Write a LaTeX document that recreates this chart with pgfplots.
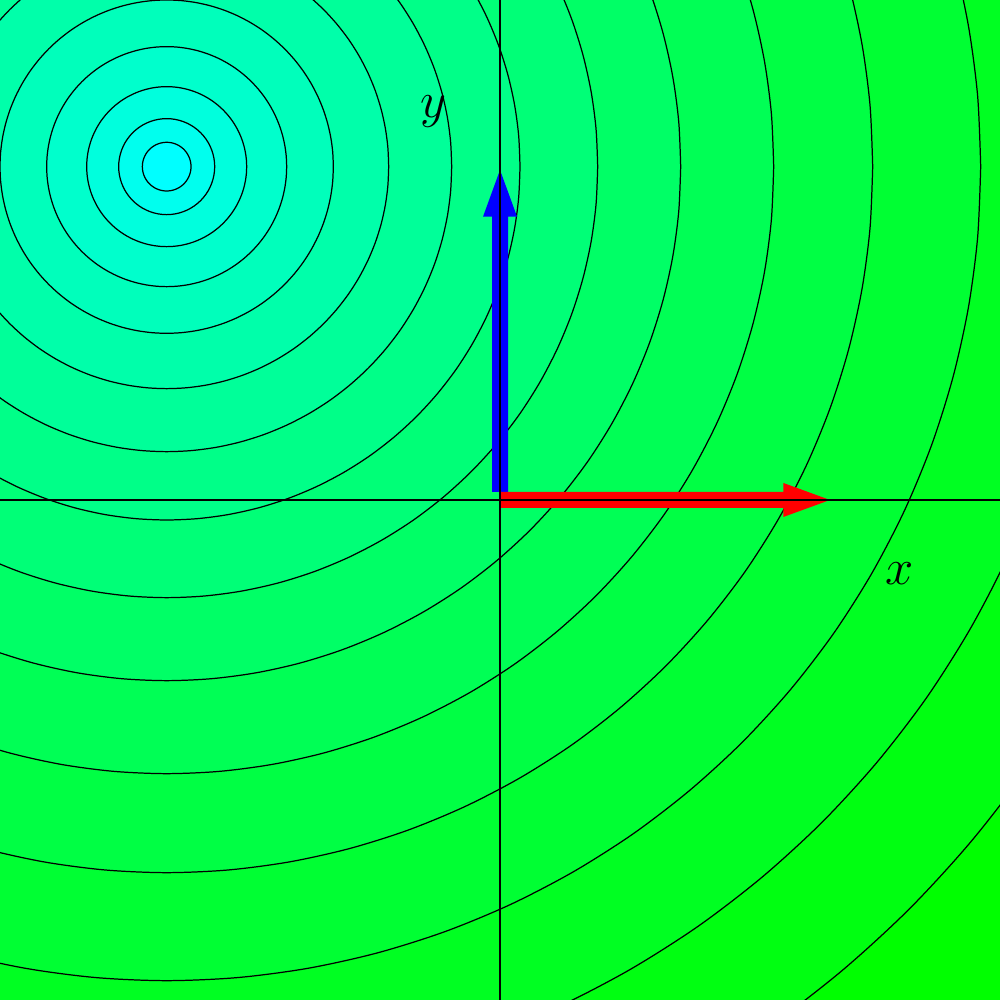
\documentclass[border=0pt]{standalone}
\usepackage{pgfplots}
\usepackage{pgfplotstable}
\pgfplotsset{compat=1.18}
\definecolor{b0}{RGB}{0,255,255}
\definecolor{b1}{RGB}{0,255,238}
\definecolor{b2}{RGB}{0,255,221}
\definecolor{b3}{RGB}{0,255,204}
\definecolor{b4}{RGB}{0,255,187}
\definecolor{b5}{RGB}{0,255,170}
\definecolor{b6}{RGB}{0,255,153}
\definecolor{b7}{RGB}{0,255,136}
\definecolor{b8}{RGB}{0,255,119}
\definecolor{b9}{RGB}{0,255,102}
\definecolor{b10}{RGB}{0,255,85}
\definecolor{b11}{RGB}{0,255,68}
\definecolor{b12}{RGB}{0,255,51}
\definecolor{b13}{RGB}{0,255,34}
\definecolor{b14}{RGB}{0,255,17}
\definecolor{b15}{RGB}{0,255,0}
\pgfplotstableread{
c s
1 0
0.9962 0.0872
0.9848 0.1736
0.9659 0.2588
0.9397 0.3420
0.9063 0.4226
0.8660 0.5
0.8192 0.5736
0.7660 0.6428
0.7071 0.7071
0.6428 0.7660
0.5736 0.8192
0.5 0.8660
0.4226 0.9063
0.3420 0.9397
0.2588 0.9659
0.1736 0.9848
0.0872 0.9962
0 1
-0.0872 0.9962
-0.1736 0.9848
-0.2588 0.9659
-0.3420 0.9397
-0.4226 0.9063
-0.5 0.8660
-0.5736 0.8192
-0.6428 0.7660
-0.7071 0.7071
-0.7660 0.6428
-0.8192 0.5736
-0.8660 0.5
-0.9063 0.4226
-0.9397 0.3420
-0.9659 0.2588
-0.9848 0.1736
-0.9962 0.0872
-1 0
-0.9962 -0.0872
-0.9848 -0.1736
-0.9659 -0.2588
-0.9397 -0.3420
-0.9063 -0.4226
-0.8660 -0.5
-0.8192 -0.5736
-0.7660 -0.6428
-0.7071 -0.7071
-0.6428 -0.7660
-0.5736 -0.8192
-0.5 -0.8660
-0.4226 -0.9063
-0.3420 -0.9397
-0.2588 -0.9659
-0.1736 -0.9848
-0.0872 -0.9962
0 -1
0.0872 -0.9962
0.1736 -0.9848
0.2588 -0.9659
0.3420 -0.9397
0.4226 -0.9063
0.5 -0.8660
0.5736 -0.8192
0.6428 -0.7660
0.7071 -0.7071
0.7660 -0.6428
0.8192 -0.5736
0.8660 -0.5
0.9063 -0.4226
0.9397 -0.3420
0.9659 -0.2588
0.9848 -0.1736
0.9962 -0.0872
1 0
}\uc
\newcommand{\ring}[2]{\addplot[smooth, draw=black, line width=0.35pt, fill=#2, line join=round] table[x expr=\thisrow{c}*#1-1, y expr=\thisrow{s}*#1+1]{\uc};}
\begin{document}
\begin{tikzpicture}
\begin{axis}[
  scale only axis, width=10cm, height=10cm,
  xmin=-1.5, xmax=1.5, ymin=-1.5, ymax=1.5,
  hide axis, clip=true]
\addplot[fill=b15, draw=none] coordinates {(-1.5,-1.5) (1.5,-1.5) (1.5,1.5) (-1.5,1.5) (-1.5,-1.5)};
\ring{3.15}{b14}
\ring{2.781}{b13}
\ring{2.442}{b12}
\ring{2.118}{b11}
\ring{1.821}{b10}
\ring{1.542}{b9}
\ring{1.293}{b8}
\ring{1.06}{b7}
\ring{0.855}{b6}
\ring{0.666}{b5}
\ring{0.50}{b4}
\ring{0.36}{b3}
\ring{0.24}{b2}
\ring{0.144}{b1}
\ring{0.073}{b0}
% blue arrow (y)
\addplot[fill=blue, draw=none] coordinates {(-0.024,0.024) (-0.024,0.85) (-0.051,0.85) (0,0.99) (0.051,0.85) (0.024,0.85) (0.024,0.024) (-0.024,0.024)};
% red arrow (x)
\addplot[fill=red, draw=none] coordinates {(0,-0.024) (0.85,-0.024) (0.85,-0.051) (0.99,0) (0.85,0.051) (0.85,0.024) (0,0.024) (0,-0.024)};
% axis lines
\addplot[black, line width=0.6pt] coordinates {(-1.5,0) (1.5,0)};
\addplot[black, line width=0.6pt] coordinates {(0,-1.5) (0,1.5)};
\node[font=\fontsize{14.5}{17}\selectfont] at (axis cs:1.2,-0.22) {$x$};
\node[font=\fontsize{14.5}{17}\selectfont] at (axis cs:-0.2,1.165) {$y$};
\end{axis}
\end{tikzpicture}
\end{document}
